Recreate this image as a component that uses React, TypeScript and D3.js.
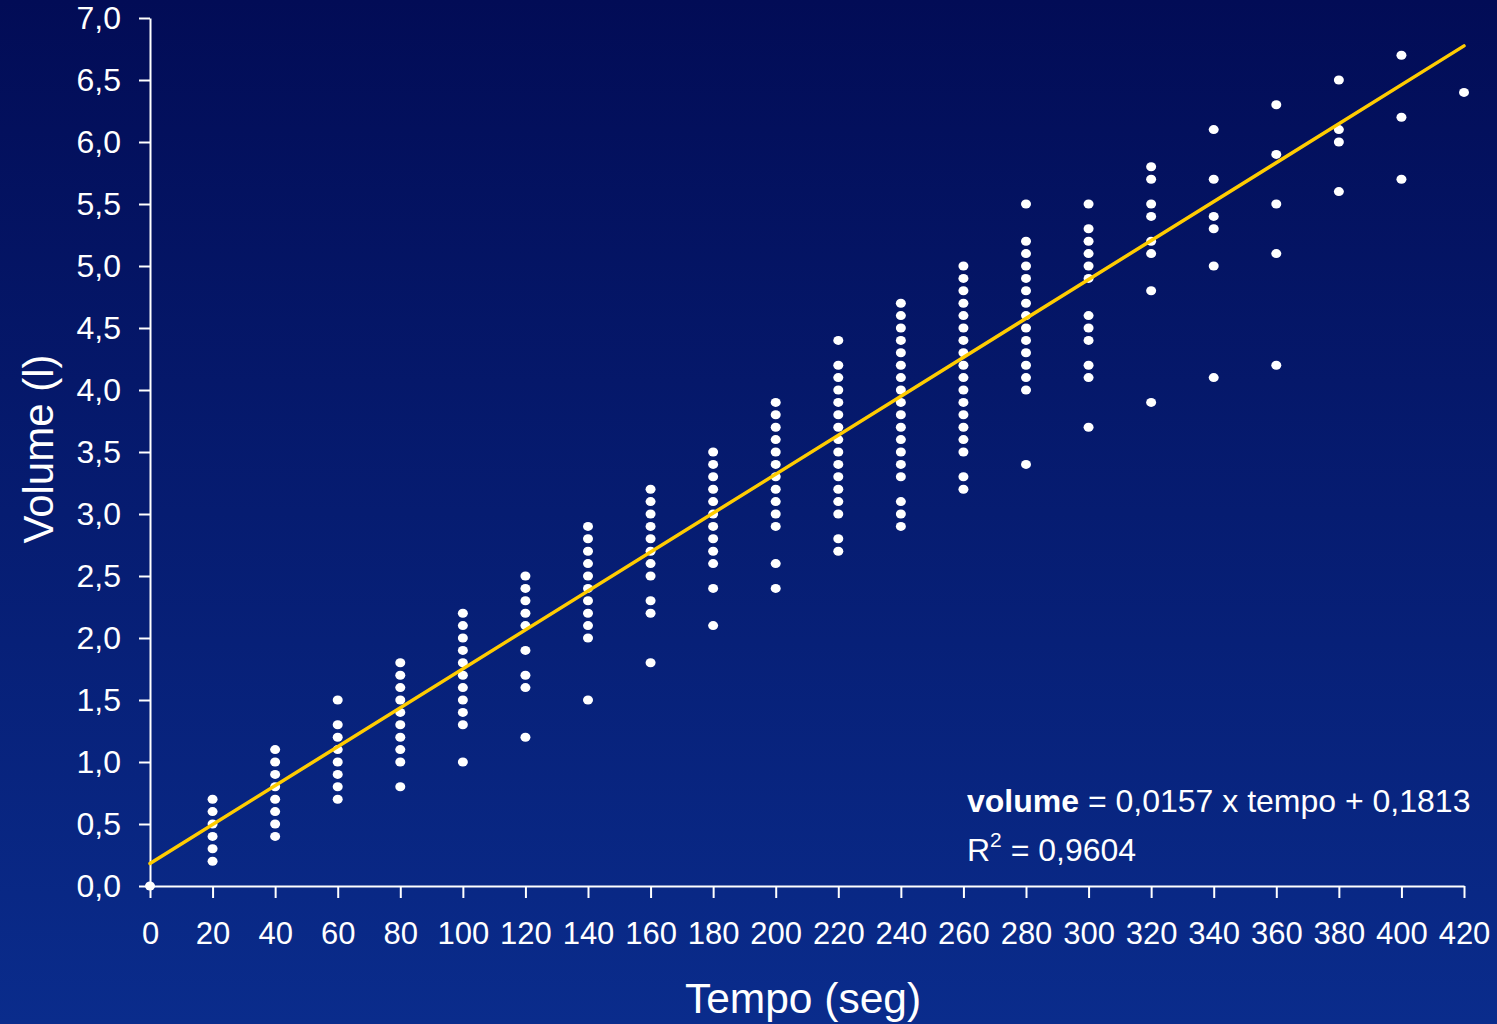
import * as d3 from "d3";
import { useRef, useEffect } from "react";

// tempo (seg) of each column of measurements
const tempos = [0, 20, 40, 60, 80, 100, 120, 140, 160, 180, 200, 220, 240, 260, 280, 300, 320, 340, 360, 380, 400, 420];

// volumes (l) read per tempo, same order as tempos
const volumes: number[][] = [
  [0.0],
  [0.7, 0.6, 0.5, 0.4, 0.3, 0.2],
  [1.1, 1.0, 0.9, 0.8, 0.7, 0.6, 0.5, 0.4],
  [1.5, 1.3, 1.2, 1.1, 1.0, 0.9, 0.8, 0.7],
  [1.8, 1.7, 1.6, 1.5, 1.4, 1.3, 1.2, 1.1, 1.0, 0.8],
  [2.2, 2.1, 2.0, 1.9, 1.8, 1.7, 1.6, 1.5, 1.4, 1.3, 1.0],
  [2.5, 2.4, 2.3, 2.2, 2.1, 1.9, 1.7, 1.6, 1.2],
  [2.9, 2.8, 2.7, 2.6, 2.5, 2.4, 2.3, 2.2, 2.1, 2.0, 1.5],
  [3.2, 3.1, 3.0, 2.9, 2.8, 2.7, 2.6, 2.5, 2.3, 2.2, 1.8],
  [3.5, 3.4, 3.3, 3.2, 3.1, 3.0, 2.9, 2.8, 2.7, 2.6, 2.4, 2.1],
  [3.9, 3.8, 3.7, 3.6, 3.5, 3.4, 3.3, 3.2, 3.1, 3.0, 2.9, 2.6, 2.4],
  [4.4, 4.2, 4.1, 4.0, 3.9, 3.8, 3.7, 3.6, 3.5, 3.4, 3.3, 3.2, 3.1, 3.0, 2.8, 2.7],
  [4.7, 4.6, 4.5, 4.4, 4.3, 4.2, 4.1, 4.0, 3.9, 3.8, 3.7, 3.6, 3.5, 3.4, 3.3, 3.1, 3.0, 2.9],
  [5.0, 4.9, 4.8, 4.7, 4.6, 4.5, 4.4, 4.3, 4.2, 4.1, 4.0, 3.9, 3.8, 3.7, 3.6, 3.5, 3.3, 3.2],
  [5.5, 5.2, 5.1, 5.0, 4.9, 4.8, 4.7, 4.6, 4.5, 4.4, 4.3, 4.2, 4.1, 4.0, 3.4],
  [5.5, 5.3, 5.2, 5.1, 5.0, 4.9, 4.6, 4.5, 4.4, 4.2, 4.1, 3.7],
  [5.8, 5.7, 5.5, 5.4, 5.2, 5.1, 4.8, 3.9],
  [6.1, 5.7, 5.4, 5.3, 5.0, 4.1],
  [6.3, 5.9, 5.5, 5.1, 4.2],
  [6.5, 6.1, 6.0, 5.6],
  [6.7, 6.2, 5.7],
  [6.4],
];

const slope = 0.0157;
const intercept = 0.1813;
const yTicks = d3.range(0, 7.01, 0.5);

export default function App() {
  const svgRef = useRef(null);

  useEffect(() => {
    const width = 1497;
    const height = 1024;
    const svg = d3.select(svgRef.current).attr("width", width).attr("height", height);
    svg.selectAll("*").remove();

    const defs = svg.append("defs");
    const grad = defs
      .append("linearGradient")
      .attr("id", "bg")
      .attr("x1", 0)
      .attr("y1", 0)
      .attr("x2", 0)
      .attr("y2", 1);
    grad.append("stop").attr("offset", "0%").attr("stop-color", "#020c56");
    grad.append("stop").attr("offset", "100%").attr("stop-color", "#0a2c8c");
    svg.append("rect").attr("width", width).attr("height", height).attr("fill", "url(#bg)");

    const x = d3.scaleLinear().domain([0, 420]).range([150, 1464]);
    const y = d3.scaleLinear().domain([0, 7]).range([886, 18]);
    const font = "Arial, 'Liberation Sans', sans-serif";

    // y axis
    const yAxis = svg
      .append("g")
      .attr("transform", `translate(${x(0)},0)`)
      .call(
        d3
          .axisLeft(y)
          .tickValues(yTicks)
          .tickSize(11)
          .tickSizeOuter(0)
          .tickPadding(18)
          .tickFormat((d) => d3.format(".1f")(d as number).replace(".", ","))
      );
    yAxis.select(".domain").attr("stroke", "#fff").attr("stroke-width", 2);
    yAxis.selectAll(".tick line").attr("stroke", "#fff").attr("stroke-width", 2);
    yAxis
      .selectAll(".tick text")
      .attr("fill", "#fff")
      .attr("font-family", font)
      .attr("font-size", 32);

    // x axis
    const xAxis = svg
      .append("g")
      .attr("transform", `translate(0,${y(0)})`)
      .call(d3.axisBottom(x).tickValues(tempos).tickSize(12).tickSizeOuter(0).tickPadding(24));
    xAxis.select(".domain").attr("stroke", "#fff").attr("stroke-width", 2);
    xAxis.selectAll(".tick line").attr("stroke", "#fff").attr("stroke-width", 2);
    xAxis
      .selectAll(".tick text")
      .attr("fill", "#fff")
      .attr("font-family", font)
      .attr("font-size", 31);

    // points
    const points = tempos.flatMap((t, i) => volumes[i].map((v) => ({ t, v })));
    svg
      .append("g")
      .selectAll("ellipse")
      .data(points)
      .enter()
      .append("ellipse")
      .attr("cx", (d) => x(d.t))
      .attr("cy", (d) => y(d.v))
      .attr("rx", 5)
      .attr("ry", 4.5)
      .attr("fill", "#fff");

    // regression line
    const line = d3
      .line<number>()
      .x((t) => x(t))
      .y((t) => y(slope * t + intercept));
    svg
      .append("path")
      .attr("d", line([0, 420]))
      .attr("stroke", "#ffcc00")
      .attr("stroke-width", 3.5)
      .attr("stroke-linecap", "round")
      .attr("fill", "none");

    // titles
    svg
      .append("text")
      .attr("x", 803)
      .attr("y", 1013)
      .attr("text-anchor", "middle")
      .attr("fill", "#fff")
      .attr("font-family", font)
      .attr("font-size", 42.5)
      .text("Tempo (seg)");
    svg
      .append("text")
      .attr("transform", "translate(53,449) rotate(-90)")
      .attr("text-anchor", "middle")
      .attr("fill", "#fff")
      .attr("font-family", font)
      .attr("font-size", 42)
      .text("Volume (l)");

    // equation
    const eq = svg
      .append("text")
      .attr("x", 967)
      .attr("y", 812)
      .attr("fill", "#fff")
      .attr("font-family", font)
      .attr("font-size", 32);
    eq.append("tspan").attr("font-weight", "bold").text("volume");
    eq.append("tspan").text(" = 0,0157 x tempo + 0,1813");

    const r2 = svg
      .append("text")
      .attr("x", 967)
      .attr("y", 861)
      .attr("fill", "#fff")
      .attr("font-family", font)
      .attr("font-size", 32);
    r2.append("tspan").text("R");
    r2.append("tspan").attr("font-size", 21).attr("dy", -14).text("2");
    r2.append("tspan").attr("dy", 14).text(" = 0,9604");
  }, []);

  return (
    <svg ref={svgRef} style={{ position: "absolute", left: 0, top: 0, display: "block" }} />
  );
}
